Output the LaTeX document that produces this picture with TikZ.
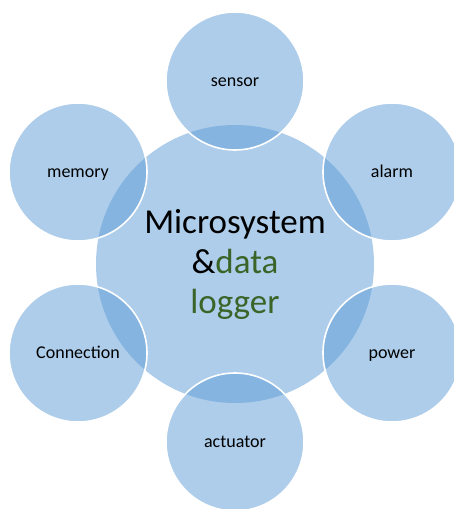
\documentclass[tikz,border=0pt]{standalone}
\usepackage{fontspec}
\setmainfont{Carlito}
\definecolor{bub}{HTML}{5B9BD5}
\definecolor{dgreen}{HTML}{3A6428}
\begin{document}
\begin{tikzpicture}[x=1pt,y=-1pt,
  hub/.style={circle,inner sep=0pt,minimum size=278pt,fill=bub,fill opacity=0.5,text opacity=1,align=center,font=\fontsize{35}{40}\selectfont},
  sat/.style={circle,inner sep=0pt,minimum size=138pt,fill=bub,fill opacity=0.5,text opacity=1,draw=white,line width=1.6pt,text height=11pt,text depth=0pt,font=\fontsize{18}{22}\selectfont}]
\useasboundingbox (0,0) rectangle (454,509);
\clip (0,0) rectangle (454,509);
\node[hub] (hub) at (235,264) {Microsystem\\\&\textcolor{dgreen}{data}\\\textcolor{dgreen}{logger}};
\node[sat] (sensor) at (235,81) {sensor};
\node[sat] (alarm) at (392,172) {alarm};
\node[sat] (power) at (392,353) {power};
\node[sat] (actuator) at (235,442) {actuator};
\node[sat] (conn) at (78,353) {Connection};
\node[sat] (memory) at (78,172) {memory};
\end{tikzpicture}
\end{document}
